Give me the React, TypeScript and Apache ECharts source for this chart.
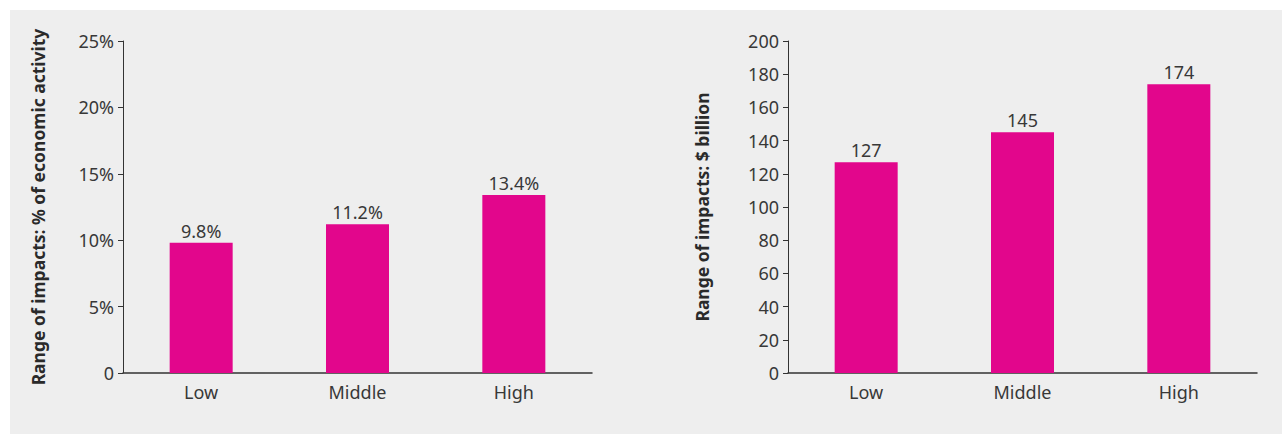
import React, { useEffect, useRef } from "react";
import * as echarts from "echarts";

// Scenario categories shared by both panels
const categories = ["Low", "Middle", "High"];
// Left panel: impact as % of economic activity
const shareValues = [9.8, 11.2, 13.4];
// Right panel: impact in $ billion
const billionValues = [127, 145, 174];

const BAR = "#E2068C";
const TEXT = "#383838";
const FONT = "'Noto Sans', sans-serif";

function panelAxes(gridIndex: number, yName: string, yMax: number, yInterval: number, pct: boolean) {
  const xAxis = {
    type: "category",
    gridIndex,
    data: categories,
    axisLine: { show: true, lineStyle: { color: "#333", width: 1.5 } },
    axisTick: { show: false },
    axisLabel: { color: TEXT, fontSize: 18, fontFamily: FONT, margin: 10 },
  };
  const yAxis = {
    type: "value",
    gridIndex,
    min: 0,
    max: yMax,
    interval: yInterval,
    name: yName,
    nameLocation: "middle",
    nameGap: pct ? 76 : 77,
    nameTextStyle: { color: "#2a2a2a", fontSize: 17.5, fontWeight: "bold", fontFamily: FONT },
    axisLine: { show: true, lineStyle: { color: "#333", width: 1 } },
    axisTick: { show: true, length: 5, lineStyle: { color: "#333" } },
    splitLine: { show: false },
    axisLabel: {
      color: TEXT,
      fontSize: 18,
      fontFamily: FONT,
      margin: 9,
      formatter: (v: number) => (pct && v !== 0 ? `${v}%` : `${v}`),
    },
  };
  return { xAxis, yAxis };
}

export default function App() {
  const ref = useRef<HTMLDivElement>(null);

  useEffect(() => {
    if (!ref.current) return;
    const chart = echarts.init(ref.current, null, { renderer: "svg" });
    const left = panelAxes(0, "Range of impacts: % of economic activity", 25, 5, true);
    const right = panelAxes(1, "Range of impacts: $ billion", 200, 20, false);
    const labelStyle = {
      show: true,
      position: "top",
      distance: 3,
      color: TEXT,
      fontSize: 18,
      fontFamily: FONT,
    };
    chart.setOption({
      animation: false,
      backgroundColor: "#EEEEEE",
      grid: [
        { left: 113, top: 31, width: 469, height: 332 },
        { left: 778, top: 31, width: 469, height: 332 },
      ],
      xAxis: [left.xAxis, right.xAxis],
      yAxis: [left.yAxis, right.yAxis],
      series: [
        {
          type: "bar",
          xAxisIndex: 0,
          yAxisIndex: 0,
          data: shareValues,
          barWidth: 63,
          itemStyle: { color: BAR },
          label: { ...labelStyle, formatter: (p: any) => `${p.value}%` },
        },
        {
          type: "bar",
          xAxisIndex: 1,
          yAxisIndex: 1,
          data: billionValues,
          barWidth: 63,
          itemStyle: { color: BAR },
          label: { ...labelStyle, formatter: (p: any) => `${p.value}` },
        },
      ],
    });
    return () => chart.dispose();
  }, []);

  return (
    <div
      ref={ref}
      style={{ position: "fixed", left: 10, top: 10, width: 1272, height: 424 }}
    />
  );
}
